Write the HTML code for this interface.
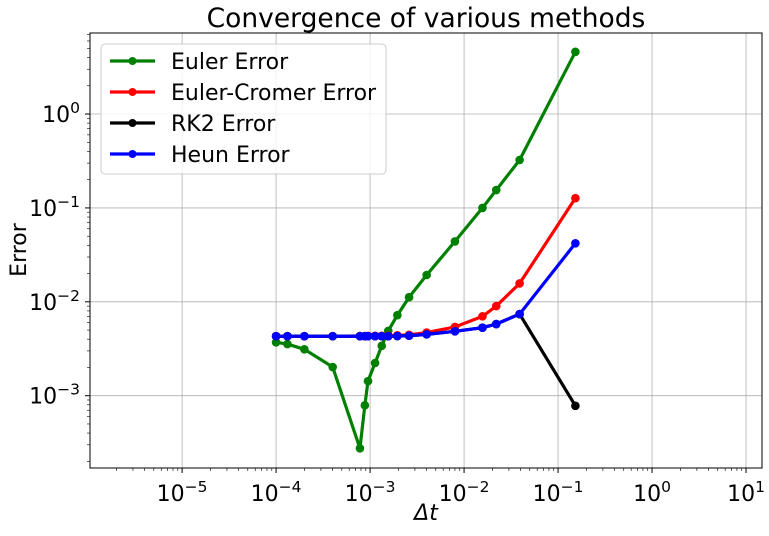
<!DOCTYPE html>
<html><head><meta charset="utf-8"><style>
body{margin:0;background:#fff;}
svg text{font-family:"DejaVu Sans","Liberation Sans",sans-serif;fill:#000;}
</style></head><body>
<svg id="chart" width="769" height="531" xmlns="http://www.w3.org/2000/svg">
<g id="grid"></g>
<g id="series"></g>
<rect x="90" y="33" width="672" height="435" fill="none" stroke="#000" stroke-width="1"/>
<g id="ticks"></g>
<text x="426" y="27" font-size="26.5" text-anchor="middle">Convergence of various methods</text>
<text x="426" y="520" font-size="22" text-anchor="middle" font-style="italic">Δt</text>
<text transform="translate(26,250) rotate(-90)" font-size="22" text-anchor="middle">Error</text>
<g id="legend"></g>
</svg>
<script>
const dtEuler=[1e-4,1.32e-4,2e-4,4e-4,7.8e-4,8.8e-4,9.5e-4,1.13e-3,1.33e-3,1.56e-3,1.95e-3,2.6e-3,4e-3,8e-3,0.0157,0.022,0.039,0.153];
const eulerErr=[3.7e-3,3.55e-3,3.12e-3,2.02e-3,2.75e-4,7.9e-4,1.43e-3,2.23e-3,3.4e-3,4.9e-3,7.2e-3,1.12e-2,1.93e-2,4.4e-2,0.1,0.155,0.324,4.6];
const dtOther=[1e-4,1.32e-4,2e-4,4e-4,7.8e-4,8.8e-4,9.5e-4,1.13e-3,1.33e-3,1.56e-3,1.95e-3,2.6e-3,4e-3,8e-3,0.0157,0.022,0.039,0.153];
const cromerErr=[4.3e-3,4.3e-3,4.3e-3,4.3e-3,4.32e-3,4.32e-3,4.33e-3,4.34e-3,4.35e-3,4.36e-3,4.4e-3,4.45e-3,4.7e-3,5.4e-3,7.0e-3,9.0e-3,1.57e-2,0.127];
const rk2Err=[4.3e-3,4.3e-3,4.3e-3,4.3e-3,4.3e-3,4.3e-3,4.3e-3,4.3e-3,4.3e-3,4.3e-3,4.32e-3,4.35e-3,4.5e-3,4.85e-3,5.3e-3,5.8e-3,7.4e-3,7.8e-4];
const heunErr=[4.3e-3,4.3e-3,4.3e-3,4.3e-3,4.3e-3,4.3e-3,4.3e-3,4.3e-3,4.3e-3,4.3e-3,4.32e-3,4.35e-3,4.5e-3,4.85e-3,5.3e-3,5.8e-3,7.4e-3,0.042];
const xTickExps=[-5,-4,-3,-2,-1,0,1];
const yTickExps=[0,-1,-2,-3];
const NS="http://www.w3.org/2000/svg";
const L=90,R=762,T=33,B=468;
const xMin=-5.98,xMax=1.17,yMin=-3.77,yMax=0.863;
const xs=v=>L+(Math.log10(v)-xMin)/(xMax-xMin)*(R-L);
const ys=v=>B-(Math.log10(v)-yMin)/(yMax-yMin)*(B-T);
function mk(tag,attrs,parent){const e=document.createElementNS(NS,tag);for(const k in attrs)e.setAttribute(k,attrs[k]);parent.appendChild(e);return e;}
const grid=document.getElementById('grid'),ticks=document.getElementById('ticks');
xTickExps.forEach(p=>{const x=xs(Math.pow(10,p));
 const g=mk('line',{x1:x,x2:x,y1:T,y2:B,stroke:'#b0b0b0','stroke-width':0.8},grid);
 
 mk('line',{x1:x,x2:x,y1:B,y2:B+5,stroke:'#000'},ticks);
 const t=mk('text',{x:x,y:B+33,'font-size':22,'text-anchor':'middle'},ticks);
 
 t.innerHTML='10<tspan dy="-9" font-size="15.5">'+(p<0?'−'+(-p):p)+'</tspan>';});
for(let p=-6;p<2;p++){for(let m=2;m<10;m++){const xm=xs(m*Math.pow(10,p));if(xm>L&&xm<R)mk('line',{x1:xm,x2:xm,y1:B,y2:B+3,stroke:'#000','stroke-width':0.6},ticks);}}
yTickExps.forEach(p=>{const y=ys(Math.pow(10,p));
 const g=mk('line',{x1:L,x2:R,y1:y,y2:y,stroke:'#b0b0b0','stroke-width':0.8},grid);
 
 mk('line',{x1:L-5,x2:L,y1:y,y2:y,stroke:'#000'},ticks);
 const t=mk('text',{x:L-10,y:y+8,'font-size':22,'text-anchor':'end'},ticks);
 
 t.innerHTML='10<tspan dy="-9" font-size="15.5">'+(p<0?'−'+(-p):p)+'</tspan>';});
for(let p=-4;p<1;p++){for(let m=2;m<10;m++){const ym=ys(m*Math.pow(10,p));if(ym>T&&ym<B)mk('line',{x1:L-3,x2:L,y1:ym,y2:ym,stroke:'#000','stroke-width':0.6},ticks);}}
const series=document.getElementById('series');
function draw(xv,yv,color,name){
 const g=mk('g',{},series);
 
 const pts=xv.map((x,i)=>xs(x)+','+ys(yv[i])).join(' ');
 mk('polyline',{points:pts,fill:'none',stroke:color,'stroke-width':3.2,'stroke-linejoin':'round'},g);
 xv.forEach((x,i)=>{const c=mk('circle',{cx:xs(x),cy:ys(yv[i]),r:4.3,fill:color},g);
  });
}
draw(dtEuler,eulerErr,'green','euler-series');
draw(dtOther,cromerErr,'red','euler-cromer-series');
draw(dtOther,rk2Err,'black','rk2-series');
draw(dtOther,heunErr,'blue','heun-series');
const lg=document.getElementById('legend');
mk('rect',{x:101,y:44,width:285,height:130,rx:4,fill:'#fff','fill-opacity':0.8,stroke:'#ccc'},lg);
[['Euler Error','green'],['Euler-Cromer Error','red'],['RK2 Error','black'],['Heun Error','blue']].forEach((e,i)=>{
 const y=61+i*31;
 const g=mk('g',{},lg);
 
 mk('line',{x1:110,x2:155,y1:y,y2:y,stroke:e[1],'stroke-width':3.2},g);
 mk('circle',{cx:132.5,cy:y,r:4,fill:e[1]},g);
 const t=mk('text',{x:171,y:y+8,'font-size':22},g);t.textContent=e[0];
});
</script>
</body></html>
